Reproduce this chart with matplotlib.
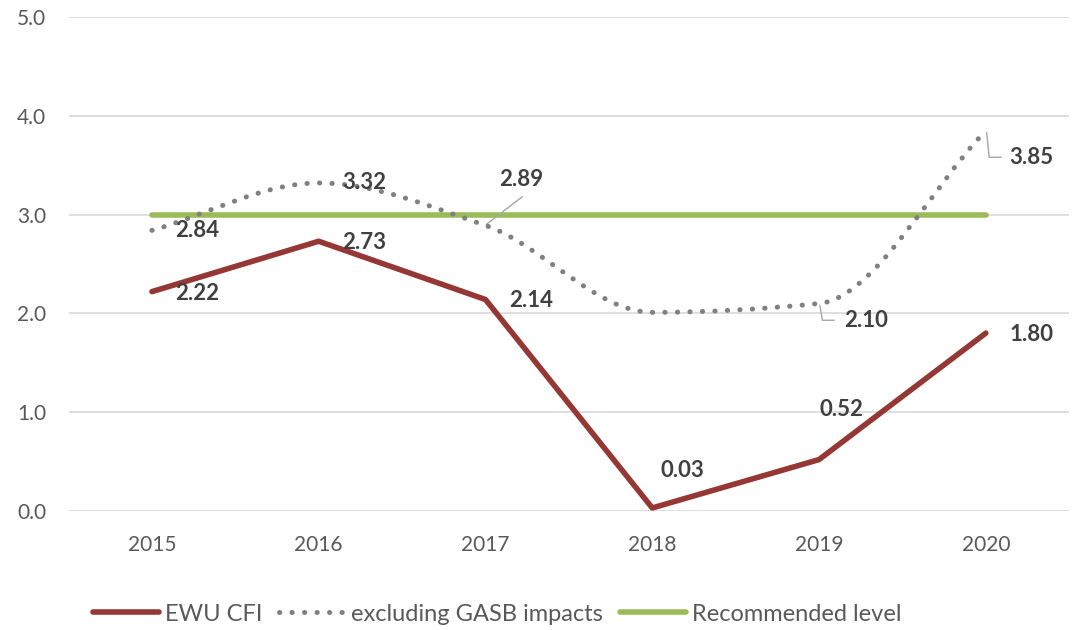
import matplotlib
matplotlib.use("Agg")
from matplotlib import pyplot as plt
from matplotlib.path import Path
from matplotlib.patches import PathPatch
from matplotlib.lines import Line2D

plt.rcParams['font.family'] = ['Lato', 'DejaVu Sans']

# data
years = ['2015', '2016', '2017', '2018', '2019', '2020']
cfi = [2.22, 2.73, 2.14, 0.03, 0.52, 1.80]
excl_gasb = [2.84, 3.32, 2.89, 2.01, 2.10, 3.85]
recommended = [3.0, 3.0, 3.0, 3.0, 3.0, 3.0]
yticks = [0, 1, 2, 3, 4, 5]

red = '#953735'
grey = '#808080'
green = '#9BBB59'
txt = '#595959'
lbl = '#404040'

fig = plt.figure(figsize=(10.76, 6.3), dpi=100)
ax = fig.add_axes([0.0637, 0.189, 0.930, 0.784])

x = list(range(len(years)))

# smoothed dotted line: monotone cubic tangents, drawn as bezier segments
n = len(x)
d = [excl_gasb[i + 1] - excl_gasb[i] for i in range(n - 1)]
m = [d[0]] + [0.0] * (n - 2) + [d[-1]]
for i in range(1, n - 1):
    if d[i - 1] * d[i] > 0:
        m[i] = 2 * d[i - 1] * d[i] / (d[i - 1] + d[i])
verts = [(x[0], excl_gasb[0])]
codes = [Path.MOVETO]
for i in range(n - 1):
    verts += [(x[i] + 1 / 3, excl_gasb[i] + m[i] / 3),
              (x[i + 1] - 1 / 3, excl_gasb[i + 1] - m[i + 1] / 3),
              (x[i + 1], excl_gasb[i + 1])]
    codes += [Path.CURVE4] * 3
dotted = PathPatch(Path(verts, codes), fill=False, edgecolor=grey, lw=3.6,
                   linestyle=(0, (0.05, 2.45)), capstyle='round', zorder=3)
ax.add_patch(dotted)

ax.plot(x, recommended, color=green, lw=4.0, solid_capstyle='round', zorder=2)
ax.plot(x, cfi, color=red, lw=4.0, solid_capstyle='round', zorder=4)

ax.set_xlim(-0.5, 5.5)
ax.set_ylim(0, 5)
ax.set_yticks(yticks)
ax.set_yticklabels([f'{v:.1f}' for v in yticks])
ax.set_xticks(x)
ax.set_xticklabels(years)
ax.tick_params(length=0, labelsize=15, colors=txt)
ax.tick_params(axis='x', pad=17)
ax.tick_params(axis='y', pad=16)
ax.grid(axis='y', color='#D9D9D9', lw=1.2)
ax.set_axisbelow(True)
for s in ax.spines.values():
    s.set_visible(False)

# data labels
lab = dict(fontsize=16, fontweight='bold', color=lbl, va='center', zorder=5)
for i in [0, 1, 2, 5]:
    ax.annotate(f'{cfi[i]:.2f}', (x[i], cfi[i]), xytext=(17, -1),
                textcoords='offset points', ha='left', **lab)
ax.annotate(f'{cfi[3]:.2f}', (x[3], cfi[3]), xytext=(22, 27),
            textcoords='offset points', ha='center', **lab)
ax.annotate(f'{cfi[4]:.2f}', (x[4], cfi[4]), xytext=(16, 36),
            textcoords='offset points', ha='center', **lab)

for i in [0, 1]:
    ax.annotate(f'{excl_gasb[i]:.2f}', (x[i], excl_gasb[i]), xytext=(17, 0),
                textcoords='offset points', ha='left', **lab)
ax.annotate(f'{excl_gasb[2]:.2f}', (x[2], excl_gasb[2]), xytext=(26, 33),
            textcoords='offset points', ha='center', **lab)

# leader lines
lead = dict(color='#A6A6A6', lw=1.0, zorder=2)
ax.plot([x[2] + 0.005, x[2] + 0.22], [excl_gasb[2] + 0.01, excl_gasb[2] + 0.29], **lead)
ax.plot([x[4] + 0.005, x[4] + 0.02, x[4] + 0.09], [excl_gasb[4] - 0.02, excl_gasb[4] - 0.17, excl_gasb[4] - 0.17], **lead)
ax.plot([x[5] + 0.005, x[5] + 0.02, x[5] + 0.09], [excl_gasb[5] - 0.02, excl_gasb[5] - 0.27, excl_gasb[5] - 0.27], **lead)
ax.annotate(f'{excl_gasb[4]:.2f}', (x[4] + 0.15, excl_gasb[4] - 0.17), ha='left', **lab)
ax.annotate(f'{excl_gasb[5]:.2f}', (x[5] + 0.14, excl_gasb[5] - 0.27), ha='left', **lab)

handles = [
    Line2D([], [], color=red, lw=4.0, solid_capstyle='round'),
    Line2D([], [], color=grey, lw=3.6, linestyle=(0, (0.05, 2.45)), dash_capstyle='round'),
    Line2D([], [], color=green, lw=4.0, solid_capstyle='round'),
]
fig.legend(handles, ['EWU CFI', 'excluding GASB impacts', 'Recommended level'],
           loc='center', bbox_to_anchor=(0.462, 0.025), ncol=3, frameon=False,
           fontsize=17, labelcolor=txt, handlelength=2.8, handletextpad=0.25,
           columnspacing=0.7)

plt.savefig('out.png', dpi=100)
